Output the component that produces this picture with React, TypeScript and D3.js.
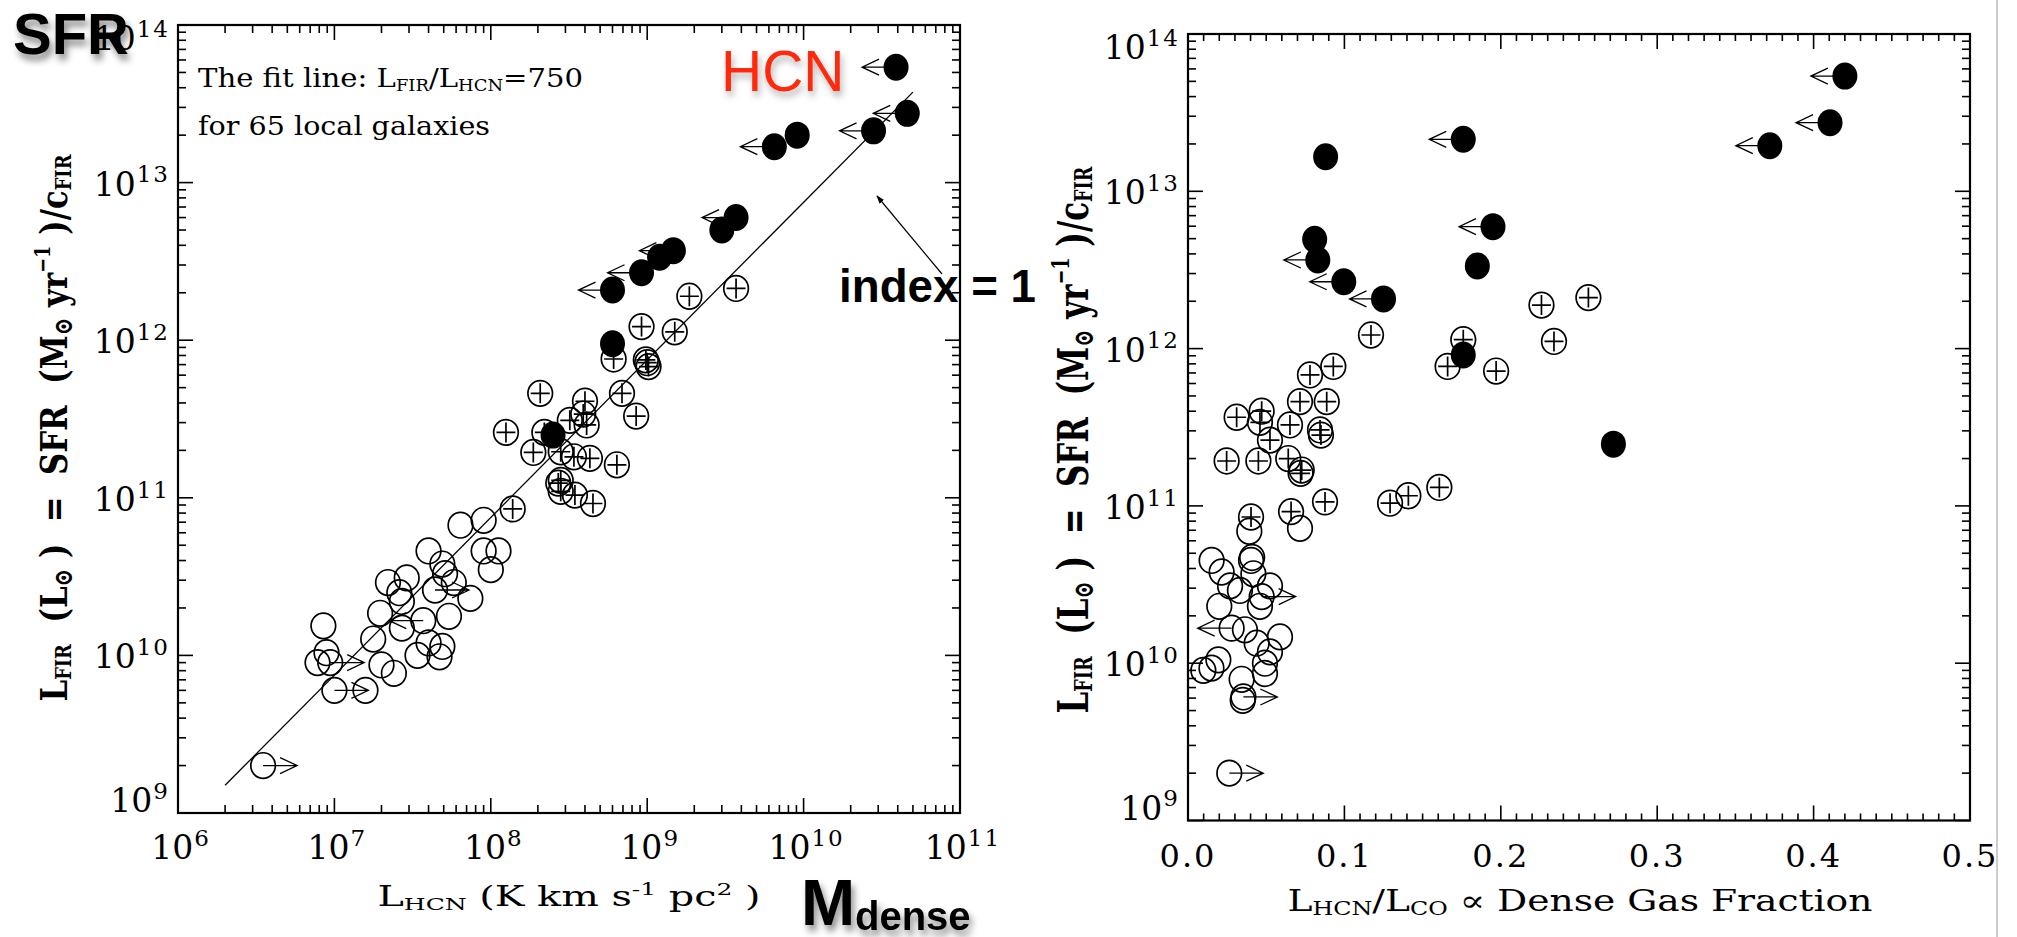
import React from "react";
import * as d3 from "d3";

const W = 2017;
const H = 937;

// ---------- Left panel: [L_HCN (K km s^-1 pc^2), L_FIR (Lsun), limit flag] ----------
const normalGalaxies: [number, number, string][] = [
  [3.5e6, 2.0e9, "R"], [8.5e6, 1.54e10, ""], [8.9e6, 1.04e10, ""], [7.8e6, 9.0e9, ""],
  [9.4e6, 9.0e9, "R"], [1.0e7, 6.0e9, "R"], [1.58e7, 6.0e9, ""], [1.77e7, 1.27e10, ""],
  [1.96e7, 1.85e10, ""], [2.0e7, 8.7e9, ""], [2.4e7, 7.7e9, ""], [2.2e7, 2.9e10, ""],
  [2.9e7, 3.1e10, ""], [2.6e7, 2.5e10, ""], [2.7e7, 2.2e10, ""], [4.0e7, 4.6e10, ""],
  [4.9e7, 3.8e10, ""], [5.1e7, 3.3e10, ""], [5.8e7, 2.9e10, ""], [4.4e7, 2.6e10, "R"],
  [7.4e7, 2.3e10, ""], [3.7e7, 1.66e10, "L"], [2.7e7, 1.49e10, ""], [5.4e7, 1.77e10, ""],
  [4.0e7, 1.2e10, ""], [4.9e7, 1.14e10, ""], [4.7e7, 9.8e9, ""], [3.4e7, 1.0e10, ""],
  [6.4e7, 6.7e10, ""], [9.0e7, 7.2e10, ""], [9.0e7, 4.6e10, ""], [1.12e8, 4.6e10, ""],
  [1.0e8, 3.5e10, ""],
];
const lirgs: [number, number, string][] = [
  [3.7e9, 2.13e12, ""], [1.86e9, 1.9e12, ""], [9.2e8, 1.22e12, ""], [1.5e9, 1.13e12, ""],
  [6.1e8, 7.6e11, ""], [1.0e9, 7.2e11, ""], [9.8e8, 7.5e11, ""], [1.02e9, 6.8e11, ""],
  [6.9e8, 4.6e11, ""], [8.5e8, 3.3e11, ""], [2.07e8, 4.6e11, ""], [1.25e8, 2.6e11, ""],
  [4.0e8, 4.1e11, ""], [3.9e8, 3.4e11, ""], [4.1e8, 2.9e11, ""], [3.2e8, 3.1e11, ""],
  [2.2e8, 2.6e11, ""], [1.87e8, 1.94e11, ""], [2.8e8, 1.96e11, ""], [3.4e8, 1.82e11, ""],
  [4.3e8, 1.78e11, ""], [6.4e8, 1.62e11, ""], [2.7e8, 1.24e11, ""], [2.8e8, 1.29e11, ""],
  [2.8e8, 1.1e11, ""], [3.45e8, 1.04e11, ""], [4.5e8, 9.2e10, ""], [1.38e8, 8.5e10, ""],
];
const ulirgs: [number, number, string][] = [
  [3.9e10, 5.4e13, "L"], [4.6e10, 2.75e13, "L"], [2.8e10, 2.13e13, "L"], [9.1e9, 2.0e13, ""],
  [6.5e9, 1.69e13, "L"], [3.7e9, 6.0e12, "L"], [3.0e9, 5.0e12, ""], [1.47e9, 3.7e12, "L"],
  [1.2e9, 3.36e12, ""], [9.2e8, 2.68e12, "L"], [6.0e8, 2.08e12, "L"], [6.0e8, 9.5e11, ""],
  [2.5e8, 2.5e11, ""],
];
const fitRatio = 750;
const fitRange = [2e6, 5e10];

// ---------- Right panel: [L_HCN/L_CO, L_FIR (Lsun), limit flag] ----------
const normalFrac: [number, number, string][] = [
  [0.0716, 7.2e10, ""], [0.0392, 6.9e10, ""], [0.0403, 4.5e10, ""], [0.041, 4.7e10, ""],
  [0.0151, 4.5e10, ""], [0.0215, 3.8e10, ""], [0.0269, 3.1e10, ""], [0.0418, 3.7e10, ""],
  [0.0524, 3.1e10, ""], [0.0471, 2.65e10, "R"], [0.0332, 2.9e10, ""], [0.02, 2.3e10, ""],
  [0.046, 2.3e10, ""], [0.0279, 1.67e10, "L"], [0.0364, 1.63e10, ""], [0.0588, 1.47e10, ""],
  [0.0439, 1.34e10, ""], [0.0524, 1.18e10, ""], [0.0492, 1.0e10, ""], [0.0194, 1.05e10, ""],
  [0.0098, 9.0e9, ""], [0.015, 9.3e9, ""], [0.0343, 7.9e9, ""], [0.0492, 8.6e9, ""],
  [0.0354, 6.1e9, "R"], [0.035, 5.8e9, ""], [0.0264, 2.0e9, "R"],
];
const lirgFrac: [number, number, string][] = [
  [0.256, 2.11e12, ""], [0.226, 1.89e12, ""], [0.234, 1.11e12, ""], [0.176, 1.14e12, ""],
  [0.166, 7.7e11, ""], [0.197, 7.2e11, ""], [0.117, 1.22e12, ""], [0.0929, 7.7e11, ""],
  [0.078, 6.8e11, ""], [0.0716, 4.6e11, ""], [0.0887, 4.6e11, ""], [0.0311, 3.66e11, ""],
  [0.0471, 4.0e11, ""], [0.046, 3.4e11, ""], [0.0652, 3.27e11, ""], [0.0844, 3.04e11, ""],
  [0.085, 2.82e11, ""], [0.0524, 2.62e11, ""], [0.0247, 1.93e11, ""], [0.045, 1.93e11, ""],
  [0.0641, 2.0e11, ""], [0.0727, 1.69e11, ""], [0.072, 1.61e11, ""], [0.0403, 8.5e10, ""],
  [0.0659, 9.2e10, ""], [0.0876, 1.06e11, ""], [0.1292, 1.04e11, ""], [0.1409, 1.16e11, ""],
  [0.1607, 1.31e11, ""],
];
const ulirgFrac: [number, number, string][] = [
  [0.42, 5.4e13, "L"], [0.4105, 2.73e13, "L"], [0.372, 1.95e13, "L"], [0.176, 2.14e13, "L"],
  [0.088, 1.66e13, ""], [0.195, 5.96e12, "L"], [0.081, 4.95e12, ""], [0.083, 3.66e12, "L"],
  [0.185, 3.35e12, ""], [0.0996, 2.66e12, "L"], [0.125, 2.07e12, "L"], [0.176, 9.1e11, ""],
  [0.272, 2.47e11, ""],
];

const yExps = [9, 10, 11, 12, 13, 14];
const xExps = [6, 7, 8, 9, 10, 11];
const fracLabels = ["0.0", "0.1", "0.2", "0.3", "0.4", "0.5"];

const serif = "'DejaVu Serif', 'Liberation Serif', serif";
const sans = "'Liberation Sans', Arial, sans-serif";

// scales
const xL = d3.scaleLog().domain([1e6, 1e11]).range([178, 960]);
const yL = d3.scaleLog().domain([1e9, 1e14]).range([813, 25]);
const xR = d3.scaleLinear().domain([0, 0.5]).range([1188, 1970]);
const yR = d3.scaleLog().domain([1e9, 1e14]).range([820.5, 34]);

function logTickVals(lo: number, hi: number) {
  const out: { v: number; major: boolean }[] = [];
  for (let k = lo; k < hi; k++) for (let m = 1; m <= 9; m++) out.push({ v: m * Math.pow(10, k), major: m === 1 });
  out.push({ v: Math.pow(10, hi), major: true });
  return out;
}

function Marker({ cx, cy, kind, limit }: { cx: number; cy: number; kind: string; limit: string }) {
  const parts: React.ReactNode[] = [];
  if (kind === "filled") {
    parts.push(<ellipse key="e" cx={cx} cy={cy} rx={12.5} ry={13.5} fill="#000" />);
  } else {
    parts.push(<ellipse key="e" cx={cx} cy={cy} rx={12.3} ry={12.8} fill="none" stroke="#000" strokeWidth={1.7} />);
  }
  if (kind === "plus") {
    parts.push(
      <path key="p" d={`M${cx - 9.5},${cy}H${cx + 9.5}M${cx},${cy - 10}V${cy + 10}`} stroke="#000" strokeWidth={1.7} />
    );
  }
  if (limit === "L" || limit === "R") {
    const s = limit === "L" ? -1 : 1;
    const tip = cx + s * 34;
    parts.push(
      <path key="a" d={`M${cx},${cy}H${tip}M${tip - s * 17},${cy - 8}L${tip},${cy}L${tip - s * 17},${cy + 8}`}
        fill="none" stroke="#000" strokeWidth={1.3} />
    );
  }
  return <g>{parts}</g>;
}

function Pow10({ x, y, exp, anchor, size, sup }: { x: number; y: number; exp: number; anchor: string; size: number; sup: number }) {
  return (
    <text x={x} y={y} textAnchor={anchor as any} fontFamily={serif} fontSize={size} fill="#000">
      10<tspan fontSize={sup} dy={-size * 0.4} dx={1} style={{ letterSpacing: "2px" }}>{exp}</tspan>
    </text>
  );
}

function LogYAxis({ y, x0, x1, labelSize, supSize }: any) {
  const ticks = logTickVals(9, 14);
  return (
    <g>
      {ticks.map((t, i) => {
        const py = y(t.v);
        const len = t.major ? 15 : 8;
        return (
          <g key={i}>
            <line x1={x0} x2={x0 + len} y1={py} y2={py} stroke="#000" strokeWidth={1.6} />
            <line x1={x1} x2={x1 - len} y1={py} y2={py} stroke="#000" strokeWidth={1.6} />
          </g>
        );
      })}
      {yExps.map((e) => {
        const py = y(Math.pow(10, e));
        const off = e === 14 ? 25 : e === 9 ? -1 : 13;
        return <Pow10 key={e} x={x0 - 8} y={py + off} exp={e} anchor="end" size={labelSize} sup={supSize} />;
      })}
    </g>
  );
}

function YTitle({ x, y, size, length }: { x: number; y: number; size: number; length: number }) {
  const s = Math.round(size * 0.58);
  return (
    <text transform={`translate(${x},${y}) rotate(-90)`} textAnchor="middle" fontFamily={serif} fontWeight="bold"
      fontSize={size} textLength={length} lengthAdjust="spacingAndGlyphs" style={{ whiteSpace: "pre" }} fill="#000">
      L<tspan fontSize={s} dy={4}>FIR</tspan><tspan dy={-4}>{"  (L"}</tspan><tspan fontSize={s + 4} dy={5}>⊙</tspan>
      <tspan dy={-5}>{" )  =  SFR  (M"}</tspan><tspan fontSize={s + 4} dy={5}>⊙</tspan><tspan dy={-5}>{" yr"}</tspan>
      <tspan fontSize={s} dy={-size * 0.45}>{"−1"}</tspan><tspan dy={size * 0.45}>{" )/c"}</tspan>
      <tspan fontSize={s} dy={4}>FIR</tspan>
    </text>
  );
}

export default function App() {
  const xTicksL = logTickVals(6, 11);
  const fracMinor = d3.range(0, 51).map((i) => i / 100);
  const fitPts = fitRange.map((v) => [xL(v), yL(v * fitRatio)]);
  const fitLine = d3.line()(fitPts as [number, number][]) || "";

  return (
    <svg width={W} height={H} viewBox={`0 0 ${W} ${H}`} style={{ position: "absolute", left: 0, top: 0, background: "#fff" }}>
      <defs>
        <filter id="shadow" x="-20%" y="-30%" width="150%" height="180%">
          <feDropShadow dx={3} dy={6} stdDeviation={3.5} floodColor="#000" floodOpacity={0.45} />
        </filter>
        <filter id="shadowLight" x="-20%" y="-30%" width="150%" height="180%">
          <feDropShadow dx={2} dy={5} stdDeviation={3.5} floodColor="#000" floodOpacity={0.3} />
        </filter>
        <marker id="arrowHead" viewBox="0 0 10 10" refX={9} refY={5} markerWidth={7} markerHeight={7} orient="auto">
          <path d="M0,1.5L10,5L0,8.5Z" fill="#000" />
        </marker>
      </defs>
      <rect x={0} y={0} width={W} height={H} fill="#fff" />

      {/* ================= LEFT PANEL ================= */}
      <g>
        {xTicksL.map((t, i) => {
          const px = xL(t.v);
          const len = t.major ? 15 : 8;
          return (
            <g key={i}>
              <line x1={px} x2={px} y1={813} y2={813 - len} stroke="#000" strokeWidth={1.6} />
              <line x1={px} x2={px} y1={25} y2={25 + len} stroke="#000" strokeWidth={1.6} />
            </g>
          );
        })}
        <LogYAxis y={yL} x0={178} x1={960} labelSize={33} supSize={23} />
        {xExps.map((e) => (
          <Pow10 key={e} x={xL(Math.pow(10, e)) + 3} y={859} exp={e} anchor="middle" size={33} sup={23} />
        ))}
        <rect x={178} y={25} width={782} height={788} fill="none" stroke="#000" strokeWidth={2.2} />

        <path d={fitLine} fill="none" stroke="#000" strokeWidth={1.3} />

        {normalGalaxies.map((d, i) => (
          <Marker key={"n" + i} cx={xL(d[0])} cy={yL(d[1])} kind="open" limit={d[2]} />
        ))}
        {lirgs.map((d, i) => (
          <Marker key={"l" + i} cx={xL(d[0])} cy={yL(d[1])} kind="plus" limit={d[2]} />
        ))}
        {ulirgs.map((d, i) => (
          <Marker key={"u" + i} cx={xL(d[0])} cy={yL(d[1])} kind="filled" limit={d[2]} />
        ))}

        <text x={198} y={87} fontFamily={serif} fontSize={26} textLength={385} lengthAdjust="spacingAndGlyphs"
          style={{ whiteSpace: "pre" }} fill="#000">
          The fit line: L<tspan fontSize={16} dy={4}>FIR</tspan><tspan dy={-4}>/L</tspan>
          <tspan fontSize={16} dy={4}>HCN</tspan><tspan dy={-4}>=750</tspan>
        </text>
        <text x={198} y={135} fontFamily={serif} fontSize={26} textLength={292} lengthAdjust="spacingAndGlyphs"
          style={{ whiteSpace: "pre" }} fill="#000">
          for 65 local galaxies
        </text>

        <text x={569} y={906} textAnchor="middle" fontFamily={serif} fontSize={27} textLength={383}
          lengthAdjust="spacingAndGlyphs" style={{ whiteSpace: "pre" }} fill="#000">
          L<tspan fontSize={17} dy={4}>HCN</tspan><tspan dy={-4}>{" (K km s"}</tspan>
          <tspan fontSize={17} dy={-11}>{"-1"}</tspan><tspan dy={11}>{" pc"}</tspan>
          <tspan fontSize={17} dy={-11}>2</tspan><tspan dy={11}>{" )"}</tspan>
        </text>
        <YTitle x={67} y={428} size={38} length={547} />
      </g>

      {/* ================= RIGHT PANEL ================= */}
      <g>
        {fracMinor.map((v, i) => {
          const px = xR(v);
          const len = i % 10 === 0 ? 15 : 7;
          return (
            <g key={i}>
              <line x1={px} x2={px} y1={820.5} y2={820.5 - len} stroke="#000" strokeWidth={1.6} />
              <line x1={px} x2={px} y1={34} y2={34 + len} stroke="#000" strokeWidth={1.6} />
            </g>
          );
        })}
        <LogYAxis y={yR} x0={1188} x1={1970} labelSize={33} supSize={23} />
        {fracLabels.map((lab, i) => (
          <text key={lab} x={xR(i / 10)} y={867} textAnchor="middle" fontFamily={serif} fontSize={32}
            style={{ letterSpacing: "2px" }} fill="#000">{lab}</text>
        ))}
        <rect x={1188} y={34} width={782} height={786.5} fill="none" stroke="#000" strokeWidth={2.2} />

        {normalFrac.map((d, i) => (
          <Marker key={"rn" + i} cx={xR(d[0])} cy={yR(d[1])} kind="open" limit={d[2]} />
        ))}
        {lirgFrac.map((d, i) => (
          <Marker key={"rl" + i} cx={xR(d[0])} cy={yR(d[1])} kind="plus" limit={d[2]} />
        ))}
        {ulirgFrac.map((d, i) => (
          <Marker key={"ru" + i} cx={xR(d[0])} cy={yR(d[1])} kind="filled" limit={d[2]} />
        ))}

        <text x={1580} y={911} textAnchor="middle" fontFamily={serif} fontSize={30} textLength={585}
          lengthAdjust="spacingAndGlyphs" style={{ whiteSpace: "pre" }} fill="#000">
          L<tspan fontSize={19} dy={4}>HCN</tspan><tspan dy={-4}>/L</tspan><tspan fontSize={19} dy={4}>CO</tspan>
          <tspan dy={-4}>{" ∝ Dense Gas Fraction"}</tspan>
        </text>
        <YTitle x={1088} y={440} size={42} length={547} />
      </g>

      {/* ================= ANNOTATIONS ================= */}
      <line x1={942} y1={274} x2={877} y2={196} stroke="#000" strokeWidth={1.2} markerEnd="url(#arrowHead)" />
      <text x={839} y={302} fontFamily={sans} fontWeight="bold" fontSize={47} textLength={197}
        lengthAdjust="spacingAndGlyphs" style={{ whiteSpace: "pre" }} fill="#000">index = 1</text>

      <text x={13} y={54} fontFamily={sans} fontWeight="bold" fontSize={58} fill="#000" filter="url(#shadow)">SFR</text>
      <text x={721} y={91} fontFamily={sans} fontSize={57} fill="#ff2a0e" filter="url(#shadowLight)">HCN</text>
      <g filter="url(#shadow)">
        <text x={801} y={925} fontFamily={sans} fontWeight="bold" fontSize={65} fill="#000">M</text>
        <text x={855} y={930} fontFamily={sans} fontWeight="bold" fontSize={40} fill="#000">dense</text>
      </g>

      <line x1={1997} x2={1997} y1={0} y2={H} stroke="#9a9a9a" strokeWidth={1} />
    </svg>
  );
}
